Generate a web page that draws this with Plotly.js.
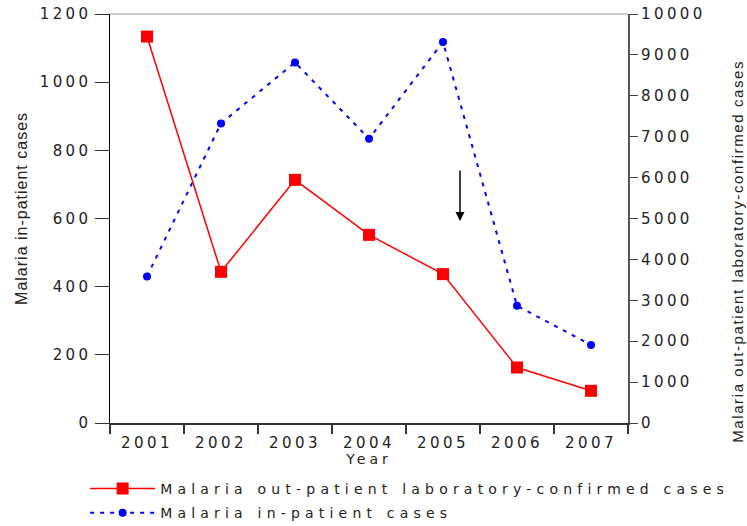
<!DOCTYPE html>
<html><head><meta charset="utf-8">
<script src="https://cdn.plot.ly/plotly-3.0.1.min.js"></script>
<style>
html,body{margin:0;padding:0;background:#fff;}
#chart{width:747px;height:526px;}
.xtick text,.ytick text,.y2tick text{letter-spacing:3.4px;}
.legendtext{letter-spacing:5.2px;}
.xtitle{letter-spacing:4px;}
.annotation[data-index="0"] text{letter-spacing:1px;}
.annotation[data-index="1"] text{letter-spacing:1.6px;}
</style>
</head><body><div id="chart"></div>
<script>
const years = ['2001', '2002', '2003', '2004', '2005', '2006', '2007'];
const outpatientCases = [9448, 3696, 5945, 4600, 3640, 1357, 787];
const inpatientCases = [430, 879, 1058, 834, 1118, 344, 229];
const outpatientName = 'Malaria out-patient laboratory-confirmed cases';
const inpatientName = 'Malaria in-patient cases';
const leftTitle = 'Malaria in-patient cases';
const rightTitle = 'Malaria out-patient laboratory-confirmed cases';
const xTitle = 'Year';

const tickFont = {family: 'DejaVu Sans', size: 15, color: '#222'};

const traces = [
  {
    x: years, y: outpatientCases, yaxis: 'y2', name: outpatientName,
    type: 'scatter', mode: 'lines+markers', legendgroup: 'a',
    line: {color: '#ff0000', width: 1.5},
    marker: {symbol: 'square', size: 12, color: '#ff0000'}
  },
  {
    x: years, y: inpatientCases, yaxis: 'y', name: inpatientName,
    type: 'scatter', mode: 'lines+markers', legendgroup: 'b',
    line: {color: '#0000ff', width: 2, dash: '4px,6px'},
    marker: {symbol: 'circle', size: 8, color: '#0000ff'}
  }
];

const layout = {
  width: 747, height: 526,
  margin: {l: 110, r: 119, t: 14, b: 103, autoexpand: false},
  paper_bgcolor: '#fff', plot_bgcolor: '#fff',
  showlegend: true,
  font: {family: 'DejaVu Sans', color: '#222'},
  xaxis: {
    type: 'category', range: [-0.5, 6.5], tickson: 'boundaries',
    ticks: 'outside', ticklen: 9, tickcolor: '#333', tickwidth: 1.5,
    showline: true, linecolor: '#333', linewidth: 1.5, ticklabelstandoff: 5,
    showgrid: false, zeroline: false, tickfont: tickFont,
    title: {text: xTitle, font: {family: 'DejaVu Sans', size: 14, color: '#222'}, standoff: 2}
  },
  yaxis: {
    range: [0, 1200], dtick: 200, tick0: 0, tickformat: 'd',
    ticks: 'outside', ticklen: 14, tickcolor: '#333', tickwidth: 1,
    showline: true, linecolor: '#000', linewidth: 1.5,
    showgrid: false, zeroline: false, tickfont: tickFont
  },
  yaxis2: {
    overlaying: 'y', side: 'right',
    range: [0, 10000], dtick: 1000, tick0: 0, tickformat: 'd',
    ticks: 'outside', ticklen: 8, tickcolor: '#444', tickwidth: 1,
    showline: true, linecolor: '#555', linewidth: 2,
    showgrid: false, zeroline: false, tickfont: tickFont
  },
  legend: {
    x: -0.048, y: -0.122, xanchor: 'left', yanchor: 'top',
    orientation: 'v', traceorder: 'grouped', tracegroupgap: 3,
    itemwidth: 65, bgcolor: 'rgba(0,0,0,0)', borderwidth: 0,
    font: {family: 'DejaVu Sans', size: 14, color: '#222'}
  },
  shapes: [
    {type: 'line', xref: 'paper', yref: 'paper', x0: 0, x1: 1, y0: 1, y1: 1,
     line: {color: '#999', width: 1}}
  ],
  annotations: [
    {text: leftTitle, xref: 'paper', yref: 'paper', x: -0.17, y: 0.5257,
     xanchor: 'center', yanchor: 'middle', textangle: -90, showarrow: false,
     font: {family: 'Liberation Sans', size: 16, color: '#222'}},
    {text: rightTitle, xref: 'paper', yref: 'paper', x: 1.2104, y: 0.4205,
     xanchor: 'center', yanchor: 'middle', textangle: -90, showarrow: false,
     font: {family: 'Liberation Sans', size: 15, color: '#222'}},
    {text: '', xref: 'x', yref: 'y', x: 4.23, y: 593, ax: 0, ay: -52,
     showarrow: true, arrowhead: 2, arrowsize: 1.2, arrowwidth: 1.5, arrowcolor: '#000'}
  ]
};

Plotly.newPlot('chart', traces, layout, {displayModeBar: false, staticPlot: true});
</script>
</body></html>
